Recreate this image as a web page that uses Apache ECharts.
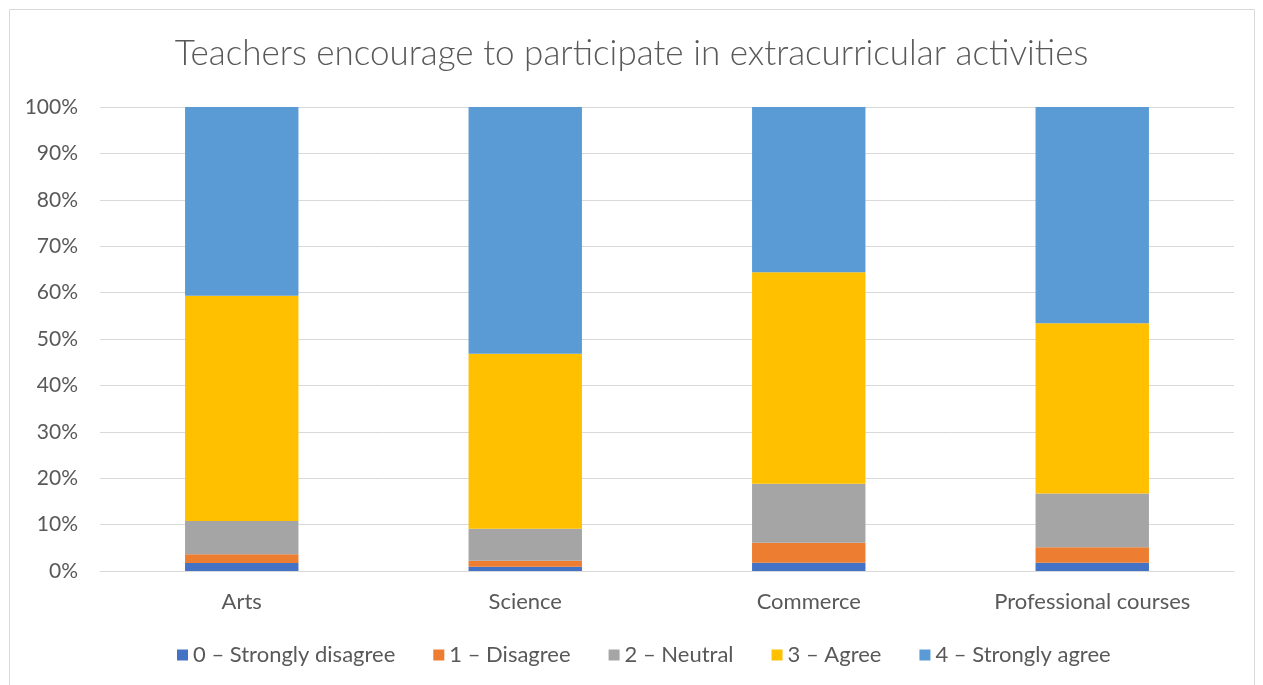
<!DOCTYPE html>
<html><head><meta charset="utf-8">
<script src="https://cdn.jsdelivr.net/npm/echarts@6/dist/echarts.min.js"></script>
<style>html,body{margin:0;padding:0;background:#fff}#c{width:1263px;height:685px}</style>
</head><body><div id="c"></div>
<script>
const categories = ['Arts', 'Science', 'Commerce', 'Professional courses'];
const seriesNames = ['0 – Strongly disagree', '1 – Disagree', '2 – Neutral', '3 – Agree', '4 – Strongly agree'];
const stronglyDisagree = [1.7, 0.9, 1.8, 1.8];
const disagree = [1.9, 1.3, 4.3, 3.3];
const neutral = [7.2, 6.9, 12.7, 11.6];
const agree = [48.5, 37.7, 45.6, 36.7];
const stronglyAgree = [40.7, 53.2, 35.6, 46.6];
const yTicks = [0, 10, 20, 30, 40, 50, 60, 70, 80, 90, 100];
const colors = ['#4472C4', '#ED7D31', '#A5A5A5', '#FFC000', '#5B9BD5'];
const values = [stronglyDisagree, disagree, neutral, agree, stronglyAgree];

const font = 'Lato';
const chart = echarts.init(document.getElementById('c'));
chart.setOption({
  animation: false,
  color: colors,
  title: {
    text: 'Teachers encourage to participate in extracurricular activities',
    left: 'center', top: 31,
    textStyle: { fontFamily: font, fontSize: 35, fontWeight: 300, color: '#595959' }
  },
  graphic: [{ type: 'rect', shape: { x: 9.5, y: 9.5, width: 1245, height: 690 }, style: { fill: 'none', stroke: '#d9d9d9', lineWidth: 1 } }],
  legend: {
    bottom: 14, left: 172, itemWidth: 11, itemHeight: 11, itemGap: 38,
    icon: 'rect',
    textStyle: { fontFamily: font, fontSize: 22, color: '#595959' },
    data: seriesNames
  },
  grid: { left: 100, right: 29, top: 107, bottom: 114 },
  xAxis: {
    type: 'category', data: categories,
    axisLine: { lineStyle: { color: '#d9d9d9', width: 1 } },
    axisTick: { show: false },
    axisLabel: { fontFamily: font, fontSize: 22, color: '#595959', margin: 20 }
  },
  yAxis: {
    type: 'value', min: 0, max: 100, interval: 10,
    axisLine: { show: false }, axisTick: { show: false },
    splitLine: { lineStyle: { color: '#d9d9d9', width: 1 } },
    axisLabel: { fontFamily: font, fontSize: 21, color: '#595959', margin: 22, formatter: v => yTicks.includes(v) ? v + '%' : '' }
  },
  series: values.map((d, i) => ({
    name: seriesNames[i], type: 'bar', stack: 'all', data: d, barWidth: '40%',
    itemStyle: { color: colors[i] }
  }))
});
</script></body></html>
